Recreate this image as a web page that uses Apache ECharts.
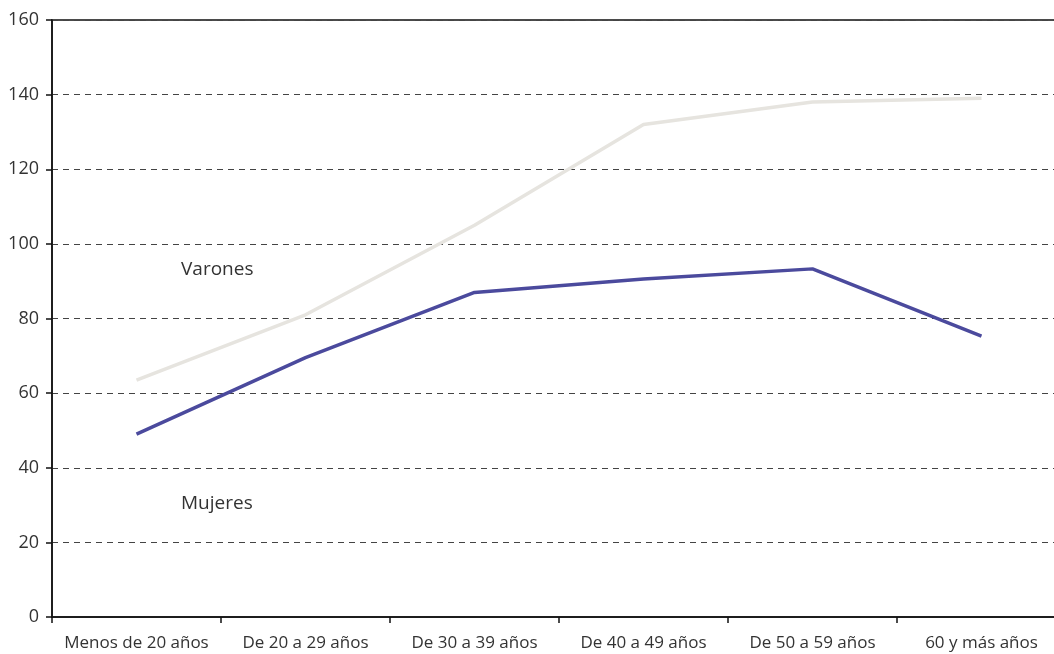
<!DOCTYPE html>
<html><head><meta charset="utf-8">
<script src="https://cdn.jsdelivr.net/npm/echarts@6/dist/echarts.min.js"></script>
<style>html,body{margin:0;padding:0;background:#fff}#c{width:1054px;height:654px}</style>
</head><body><div id="c"></div>
<script>
const categories = ["Menos de 20 años","De 20 a 29 años","De 30 a 39 años","De 40 a 49 años","De 50 a 59 años","60 y más años"];
const varones = [63.5, 81, 105, 132, 138, 139];
const mujeres = [49, 69.5, 87, 90.6, 93.3, 75.3];
const seriesNames = ["Varones","Mujeres"];

const chart = echarts.init(document.getElementById('c'));
const font = "'Open Sans', 'Noto Sans', sans-serif";
chart.setOption({
  animation: false,
  grid: {left: 52, top: 20, bottom: 37, width: 1014, outerBoundsMode: 'none', containLabel: false,
         show: true, borderColor: '#111', borderWidth: 1.5},
  xAxis: {
    type: 'category', data: categories, boundaryGap: true,
    axisLine: {lineStyle: {color: '#111', width: 1.5}},
    axisTick: {show: true, length: 6, lineStyle: {color: '#111', width: 1.5}},
    axisLabel: {color: '#333', fontSize: 17, fontFamily: font, margin: 18, interval: 0}
  },
  yAxis: {
    type: 'value', min: 0, max: 160, interval: 20,
    axisLine: {show: true, lineStyle: {color: '#111', width: 1.5}},
    axisTick: {show: true, length: 6, lineStyle: {color: '#111', width: 1.5}},
    axisLabel: {color: '#333', fontSize: 18, fontFamily: font, margin: 13},
    splitLine: {show: true, lineStyle: {color: '#444', width: 1, type: [6, 5]}}
  },
  series: [
    {name: seriesNames[0], type: 'line', data: varones, symbol: 'none',
     lineStyle: {color: '#e6e4df', width: 3.5}, z: 3},
    {name: seriesNames[1], type: 'line', data: mujeres, symbol: 'none',
     lineStyle: {color: '#4b4a9d', width: 3.5}, z: 4}
  ],
  graphic: [
    {type: 'text', left: 181, top: 260, style: {text: seriesNames[0], fill: '#333', font: '19px ' + font}},
    {type: 'text', left: 181, top: 494, style: {text: seriesNames[1], fill: '#333', font: '19px ' + font}}
  ]
});
</script></body></html>
